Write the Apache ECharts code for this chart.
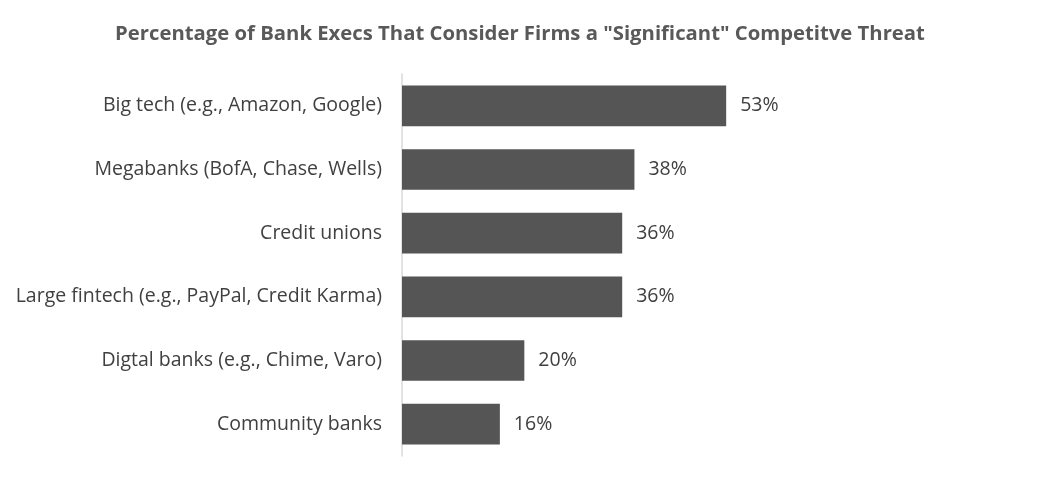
<!DOCTYPE html>
<html>
<head>
<meta charset="utf-8">
<script src="https://cdn.jsdelivr.net/npm/echarts@6/dist/echarts.min.js"></script>
<style>
  html, body { margin: 0; padding: 0; background: #fff; }
  #chart { width: 1040px; height: 480px; }
</style>
</head>
<body>
<div id="chart"></div>
<script>
// categories top to bottom
const categories = [
  'Big tech (e.g., Amazon, Google)',
  'Megabanks (BofA, Chase, Wells)',
  'Credit unions',
  'Large fintech (e.g., PayPal, Credit Karma)',
  'Digtal banks (e.g., Chime, Varo)',
  'Community banks'
];
const values = [53, 38, 36, 36, 20, 16];

const chart = echarts.init(document.getElementById('chart'));
chart.setOption({
  animation: false,
  textStyle: { fontFamily: 'Open Sans' },
  title: {
    text: 'Percentage of Bank Execs That Consider Firms a "Significant" Competitve Threat',
    left: 'center',
    top: 19,
    textStyle: { fontFamily: 'Open Sans', fontSize: 20.3, fontWeight: 'bold', color: '#595959' }
  },
  grid: { left: 402, top: 74, width: 367, height: 382, containLabel: false },
  xAxis: {
    type: 'value',
    min: 0,
    max: 60,
    show: false
  },
  yAxis: {
    type: 'category',
    inverse: true,
    data: categories,
    axisLine: { show: true, lineStyle: { color: '#d9d9d9', width: 1.5 } },
    axisTick: { show: false },
    axisLabel: { margin: 20, fontSize: 19.5, color: '#404040', fontFamily: 'Open Sans' }
  },
  series: [{
    type: 'bar',
    data: values,
    barWidth: '64%',
    itemStyle: { color: '#555555' },
    label: {
      show: true,
      position: 'right',
      distance: 14,
      formatter: p => p.value + '%',
      fontSize: 19.5,
      color: '#404040',
      fontFamily: 'Open Sans'
    }
  }]
});
</script>
</body>
</html>
